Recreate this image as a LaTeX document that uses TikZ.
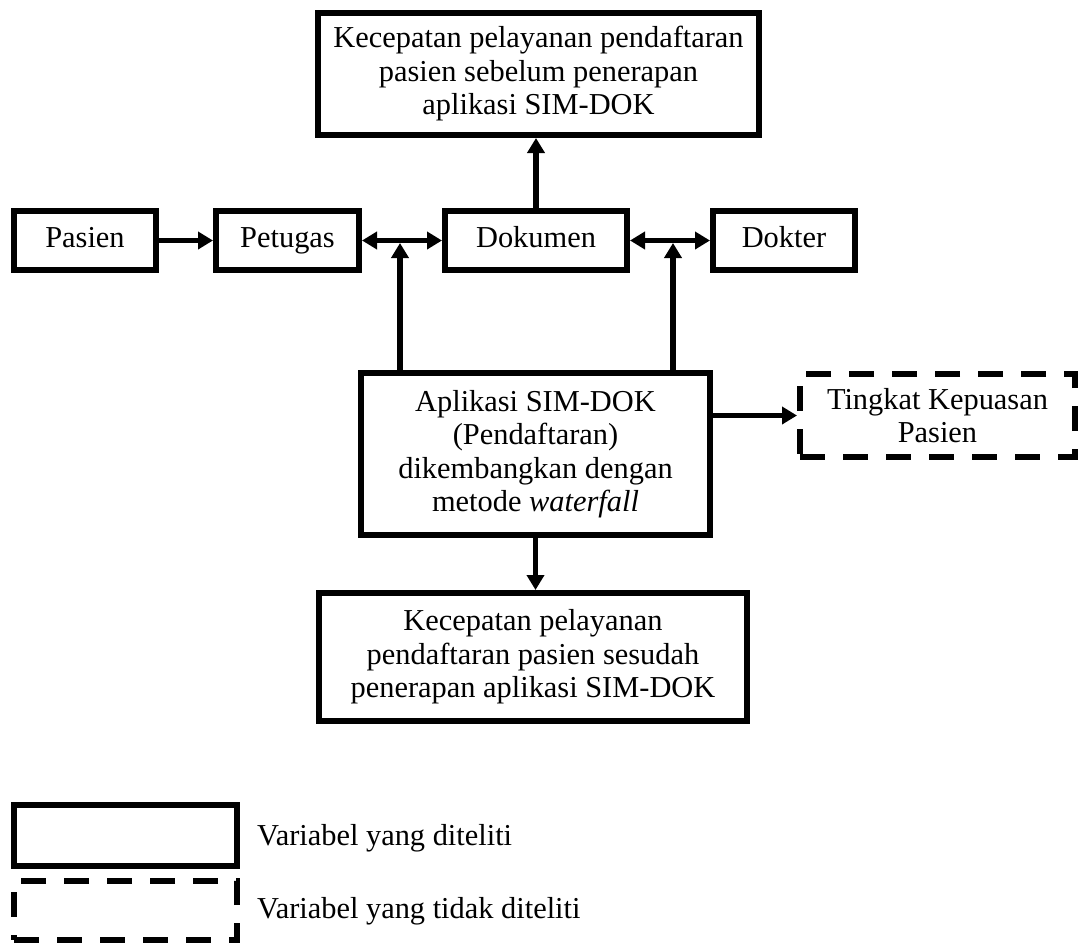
\documentclass[tikz,border=0pt]{standalone}
\usepackage{fontspec}
\setmainfont{Liberation Serif}
\usetikzlibrary{arrows.meta}
\begin{document}
\begin{tikzpicture}[x=1pt,y=-1pt,
  box/.style={draw,line width=6pt,align=center,inner sep=0pt,font=\fontsize{30.4}{33.5}\selectfont},
  sbox/.style={box,text height=20pt,text depth=7pt},
  dbox/.style={box,dash pattern=on 25pt off 18pt},
  lbl/.style={inner sep=0pt,font=\fontsize{30.4}{33.5}\selectfont},
  arr/.style={line width=5.5pt,-{Triangle[length=15pt,width=17pt]}},
  darr/.style={line width=5.5pt,{Triangle[length=15pt,width=17pt]}-{Triangle[length=15pt,width=17pt]}}]
\useasboundingbox (0,0) rectangle (1082,945);
\node[box,minimum width=441pt,minimum height=122pt] (top) at (538.5,74) {Kecepatan pelayanan pendaftaran\\pasien sebelum penerapan\\aplikasi SIM-DOK};
\node[sbox,minimum width=142pt,minimum height=59pt] (pas) at (85,240.5) {Pasien};
\node[sbox,minimum width=143pt,minimum height=59pt] (pet) at (287.5,240.5) {Petugas};
\node[sbox,minimum width=182pt,minimum height=59pt] (dok) at (536,240.5) {Dokumen};
\node[sbox,minimum width=142pt,minimum height=59pt] (dkt) at (784,240.5) {Dokter};
\node[box,minimum width=349pt,minimum height=162pt] (apl) at (535.5,454) {Aplikasi SIM-DOK\\(Pendaftaran)\\dikembangkan dengan\\metode \textit{waterfall}};
\node[dbox,minimum width=275pt,minimum height=83pt] (tk) at (937.5,415.5) {Tingkat Kepuasan\\Pasien};
\node[box,minimum width=428pt,minimum height=128pt] (bot) at (533,657) {Kecepatan pelayanan\\pendaftaran pasien sesudah\\penerapan aplikasi SIM-DOK};
\node[box,minimum width=223pt,minimum height=61pt] (leg1) at (125.5,835.5) {};
\node[dbox,minimum width=223pt,minimum height=59pt] (leg2) at (125.5,910.5) {};
\node[lbl,anchor=base west] (t1) at (257,845) {Variabel yang diteliti};
\node[lbl,anchor=base west] (t2) at (257,918) {Variabel yang tidak diteliti};
\coordinate (j1) at (400,240.5);
\coordinate (j2) at (673,240.5);
\draw[arr] (pas) -- (pet);
\draw[darr] (pet) -- (dok);
\draw[darr] (dok) -- (dkt);
\draw[arr] (apl.north -| j1) -- ([yshift=-2.5pt]j1);
\draw[arr] (apl.north -| j2) -- ([yshift=-2.5pt]j2);
\draw[arr] (dok.north) -- (dok.north |- top.south);
\draw[arr] (apl.east |- tk.west) -- (tk.west);
\draw[arr] (apl.south) -- (apl.south |- bot.north);
\end{tikzpicture}
\end{document}
